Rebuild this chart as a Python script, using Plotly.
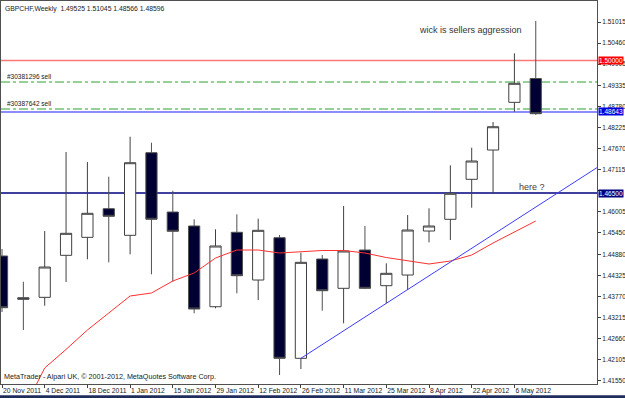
import plotly.graph_objects as go

# ---------------- data ----------------
dates = ["2011-11-20", "2011-11-27", "2011-12-04", "2011-12-11", "2011-12-18", "2011-12-25",
         "2012-01-01", "2012-01-08", "2012-01-15", "2012-01-22", "2012-01-29", "2012-02-05",
         "2012-02-12", "2012-02-19", "2012-02-26", "2012-03-04", "2012-03-11", "2012-03-18",
         "2012-03-25", "2012-04-01", "2012-04-08", "2012-04-15", "2012-04-22", "2012-04-29",
         "2012-05-06", "2012-05-13"]
opens = [1.44839, 1.43738, 1.43748, 1.44857, 1.45332, 1.46088, 1.45385, 1.47566, 1.46000, 1.45631,
         1.43500, 1.45465, 1.44205, 1.45322, 1.42138, 1.44760, 1.43986, 1.44997, 1.44055, 1.44337,
         1.45499, 1.45808, 1.46864, 1.47637, 1.48896, 1.49525]
highs = [1.45024, 1.44160, 1.45499, 1.47584, 1.47320, 1.46932, 1.47988, 1.47830, 1.46563, 1.45808,
         1.45544, 1.45940, 1.45824, 1.45393, 1.44926, 1.44865, 1.46159, 1.45631, 1.44646, 1.45921,
         1.46098, 1.47233, 1.47698, 1.48376, 1.50190, 1.51045]
lows = [1.43360, 1.42885, 1.43527, 1.44152, 1.44752, 1.44672, 1.44884, 1.44356, 1.44160, 1.43326,
        1.43458, 1.43854, 1.43677, 1.41697, 1.41856, 1.43395, 1.43062, 1.43968, 1.43590, 1.43941,
        1.45200, 1.45261, 1.46114, 1.46494, 1.48648, 1.48566]
closes = [1.43474, 1.43696, 1.44548, 1.45438, 1.45966, 1.45887, 1.47302, 1.45808, 1.45491, 1.43440,
          1.45103, 1.44319, 1.45517, 1.42138, 1.44672, 1.43923, 1.44971, 1.43986, 1.44382, 1.45525,
          1.45631, 1.46494, 1.47347, 1.48252, 1.49398, 1.48596]
ma = [None, 1.40773, 1.41882, 1.42373, 1.42885, 1.43334, 1.43783, 1.43862, 1.44179, 1.44390,
      1.44786, 1.44997, 1.44997, 1.44918, 1.44944, 1.44984, 1.44984, 1.44918, 1.44799, 1.44707,
      1.44628, 1.44707, 1.44865, 1.45182, 1.45472, 1.45763]

# trend line anchors (bar index, price), drawn as a ray to the right
trend_idx = [14, 18]
trend_px = [1.42138, 1.43590]
trend_end_idx = 28
trend_end_date = "2012-06-03"

# horizontal levels
red_level = 1.50000
sell_levels = [1.49432, 1.48720]
sell_labels = ["#30381296 sell", "#30387642 sell"]
blue_level = 1.48643
navy_level = 1.46500

ytick_vals = [1.51015, 1.50460, 1.49905, 1.49335, 1.48780, 1.48225, 1.47670, 1.47115, 1.46560,
              1.46005, 1.45450, 1.44880, 1.44325, 1.43770, 1.43215, 1.42660, 1.42105, 1.41550]
hidden_ticks = [1.46560]
xtick_vals = dates[::2]

title_text = "GBPCHF,Weekly  1.49525 1.51045 1.48566 1.48596"
copyright_text = "MetaTrader - Alpari UK, \u00a9 2001-2012, MetaQuotes Software Corp."

FONT = "Tahoma, 'Liberation Sans', Arial, sans-serif"

# ---------------- figure ----------------
fig = go.Figure()

fig.add_trace(go.Scatter(x=dates, y=ma, mode="lines",
                         line=dict(color="#ff3030", width=1), hoverinfo="skip"))

slope = (trend_px[1] - trend_px[0]) / (trend_idx[1] - trend_idx[0])
trend_end_val = trend_px[0] + slope * (trend_end_idx - trend_idx[0])
fig.add_trace(go.Scatter(x=[dates[trend_idx[0]], trend_end_date],
                         y=[trend_px[0], trend_end_val], mode="lines",
                         line=dict(color="#3c3cff", width=1), hoverinfo="skip"))

fig.add_trace(go.Candlestick(
    x=dates, open=opens, high=highs, low=lows, close=closes,
    increasing=dict(line=dict(color="#404040", width=1), fillcolor="#ffffff"),
    decreasing=dict(line=dict(color="#505050", width=1), fillcolor="#000033"),
    whiskerwidth=0, hoverinfo="skip"))

shapes = []
shapes.append(dict(type="line", xref="paper", x0=0, x1=1, yref="y", y0=red_level, y1=red_level,
                   line=dict(color="#ff7878", width=1.5), layer="below"))
for lv in sell_levels:
    shapes.append(dict(type="line", xref="paper", x0=0, x1=1, yref="y", y0=lv, y1=lv,
                       line=dict(color="#30a030", width=1, dash="dashdot"), layer="below"))
shapes.append(dict(type="line", xref="paper", x0=0, x1=1, yref="y", y0=blue_level, y1=blue_level,
                   line=dict(color="#8c8cff", width=2), layer="below"))
shapes.append(dict(type="line", xref="paper", x0=0, x1=1, yref="y", y0=navy_level, y1=navy_level,
                   line=dict(color="#000080", width=1.5), layer="below"))
shapes.append(dict(type="rect", xref="paper", yref="paper", x0=-0.01, x1=1.06,
                   y0=-0.045, y1=-0.0295, fillcolor="#1e2d5c", line=dict(width=0)))

annotations = []
annotations.append(dict(text=title_text, xref="paper", yref="paper", x=0.004, y=0.995,
                        xanchor="left", yanchor="top", showarrow=False,
                        font=dict(family=FONT, size=6.8, color="#202020")))
annotations.append(dict(text=copyright_text, xref="paper", yref="paper", x=0.002, y=0.002,
                        xanchor="left", yanchor="bottom", showarrow=False,
                        font=dict(family=FONT, size=7.2, color="#202020")))
for lv, lab in zip(sell_levels, sell_labels):
    annotations.append(dict(text=lab, xref="paper", yref="y", x=0.007, y=lv,
                            xanchor="left", yanchor="bottom", showarrow=False,
                            font=dict(family=FONT, size=6.5, color="#202020")))
annotations.append(dict(text="wick is sellers aggression", xref="paper", yref="paper",
                        x=0.787, y=0.924, xanchor="center", yanchor="middle", showarrow=False,
                        font=dict(family="'Liberation Sans', Arial, sans-serif", size=9, color="#333333")))
annotations.append(dict(text="here ?", xref="paper", yref="y", x=0.891, y=navy_level,
                        xanchor="center", yanchor="bottom", showarrow=False, yshift=-1,
                        font=dict(family="'Liberation Sans', Arial, sans-serif", size=9, color="#4a3a3a")))
for lv, bg in [(red_level, "#ff0000"), (blue_level, "#0000e0"), (navy_level, "#000080")]:
    annotations.append(dict(text="%.5f" % lv, xref="paper", yref="y", x=1, y=lv,
                            xanchor="left", yanchor="middle", showarrow=False, xshift=1,
                            bgcolor=bg, borderpad=0,
                            font=dict(family=FONT, size=6.5, color="#ffffff")))

fig.update_layout(
    width=625, height=398,
    margin=dict(l=1, r=28, t=1, b=14, autoexpand=False),
    paper_bgcolor="#ffffff", plot_bgcolor="#ffffff",
    showlegend=False, hovermode=False, boxgap=0.25,
    shapes=shapes, annotations=annotations,
    font=dict(family=FONT, size=7, color="#202020"),
    xaxis=dict(type="date", range=["2011-11-19 16:06", "2012-06-02 02:00"],
               rangeslider=dict(visible=False), showgrid=False, zeroline=False,
               showline=True, mirror=True, linecolor="#505050", linewidth=1,
               tickvals=xtick_vals, tickformat="%-d %b %Y", tickangle=0, automargin=False,
               ticks="outside", ticklen=3,
               tickcolor="#404040", ticklabelposition="outside right",
               tickfont=dict(family=FONT, size=6.8, color="#202020")),
    yaxis=dict(side="right", range=[1.41460, 1.51571], showgrid=False, zeroline=False,
               showline=True, mirror=True, linecolor="#505050", linewidth=1, automargin=False,
               tickvals=ytick_vals,
               ticktext=["" if v in hidden_ticks else "%.5f" % v for v in ytick_vals],
               ticks="outside", ticklen=3, tickcolor="#404040", ticklabelstandoff=0,
               tickfont=dict(family=FONT, size=6.5, color="#202020")),
)

fig.write_html("out.html")
